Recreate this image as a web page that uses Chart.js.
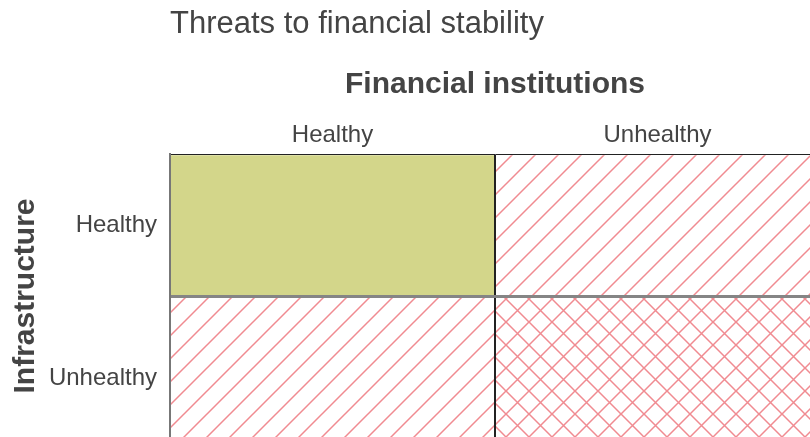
<!DOCTYPE html>
<html>
<head>
<meta charset="utf-8">
<script src="https://cdn.jsdelivr.net/npm/chart.js@4"></script>
<style>
  html, body { margin: 0; padding: 0; background: #fff; overflow: hidden; }
  #wrap { width: 830px; height: 475px; }
</style>
</head>
<body>
<div id="wrap"><canvas id="threatChart" width="830" height="475"></canvas></div>
<script>
// Financial institutions (columns) x Infrastructure (rows)
const columns = ['Healthy', 'Unhealthy'];
const rows = ['Healthy', 'Unhealthy'];
// vertical extent of each row on the y scale
const rowSpans = [[0, 1], [1, 2]];
// where each row label sits on the y scale (bottom label sits below its row centre)
const rowLabelAt = [0.5, 1.58];
// number of unhealthy sectors in each cell: rows x columns
const unhealthyCount = [[0, 1], [1, 2]];

// Build a hatch tile: 'single' = one diagonal, 'cross' = both diagonals
function makeHatch(kind) {
    const size = 23;
    const tile = document.createElement('canvas');
    tile.width = size;
    tile.height = size;
    const c = tile.getContext('2d');
    c.strokeStyle = '#f08b91';
    c.lineWidth = 1.5;
    c.beginPath();
    c.moveTo(-2, size + 2); c.lineTo(size + 2, -2);
    c.moveTo(-2, 2); c.lineTo(2, -2);
    c.moveTo(size - 2, size + 2); c.lineTo(size + 2, size - 2);
    if (kind === 'cross') {
        c.moveTo(-2, -2); c.lineTo(size + 2, size + 2);
        c.moveTo(size - 2, -2); c.lineTo(size + 2, 2);
        c.moveTo(-2, size - 2); c.lineTo(2, size + 2);
    }
    c.stroke();
    return c.createPattern(tile, 'repeat');
}

const fills = ['#d3d68a', makeHatch('single'), makeHatch('cross')];

const datasets = rows.map((rowName, r) => ({
    label: 'Infrastructure ' + rowName,
    data: columns.map(() => rowSpans[r]),
    backgroundColor: unhealthyCount[r].map(n => fills[n]),
    borderWidth: 0,
    barPercentage: 1,
    categoryPercentage: 1,
    grouped: false
}));

const rowEdges = [rowSpans[0][0]].concat(rowSpans.map(s => s[1]));

const fontFamily = 'Liberation Sans, Arial, sans-serif';

const ctx = document.getElementById('threatChart').getContext('2d');
new Chart(ctx, {
    type: 'bar',
    data: { labels: columns, datasets: datasets },
    options: {
        responsive: false,
        animation: false,
        layout: { padding: { left: 0, right: 10, top: 0, bottom: 37 } },
        plugins: {
            legend: { display: false },
            tooltip: { enabled: false },
            title: {
                display: true,
                text: 'Threats to financial stability',
                align: 'start',
                fullSize: false,
                color: '#444',
                font: { family: fontFamily, size: 31, weight: 'normal' },
                padding: { top: 6, bottom: 8 }
            }
        },
        scales: {
            x: {
                type: 'category',
                position: 'top',
                offset: true,
                grid: {
                    offset: true,
                    drawTicks: false,
                    z: 1,
                    lineWidth: 2,
                    color: c => (c.index === 1 ? '#222' : 'rgba(0,0,0,0)')
                },
                border: { display: true, color: '#222', width: 1, z: 1 },
                ticks: {
                    color: '#444',
                    padding: 4,
                    font: { family: fontFamily, size: 24 }
                },
                title: {
                    display: true,
                    text: 'Financial institutions',
                    color: '#444',
                    font: { family: fontFamily, size: 30, weight: 'bold' },
                    padding: { top: 16, bottom: 14 }
                }
            },
            y: {
                type: 'linear',
                reverse: true,
                min: rowEdges[0],
                max: rowEdges[rowEdges.length - 1],
                afterBuildTicks: scale => {
                    scale.ticks = rowEdges.concat(rowLabelAt)
                        .sort((a, b) => a - b)
                        .map(v => ({ value: v }));
                },
                afterFit: scale => {
                    scale.width = 170;
                    scale.paddingTop = 0;
                    scale.paddingBottom = 0;
                },
                grid: {
                    drawTicks: false,
                    z: 1,
                    lineWidth: 3,
                    color: c => (c.tick && c.tick.value === rowEdges[1] ? '#858585' : 'rgba(0,0,0,0)')
                },
                border: { display: true, color: '#777', width: 2, z: 1 },
                ticks: {
                    color: '#444',
                    padding: 13,
                    autoSkip: false,
                    font: { family: fontFamily, size: 24 },
                    callback: function (value) {
                        const i = rowLabelAt.indexOf(value);
                        return i >= 0 ? rows[i] : '';
                    }
                },
                title: {
                    display: true,
                    text: 'Infrastructure',
                    color: '#444',
                    font: { family: fontFamily, size: 30, weight: 'bold' },
                    padding: { top: 8, bottom: 0 }
                }
            }
        }
    }
});
</script>
</body>
</html>
